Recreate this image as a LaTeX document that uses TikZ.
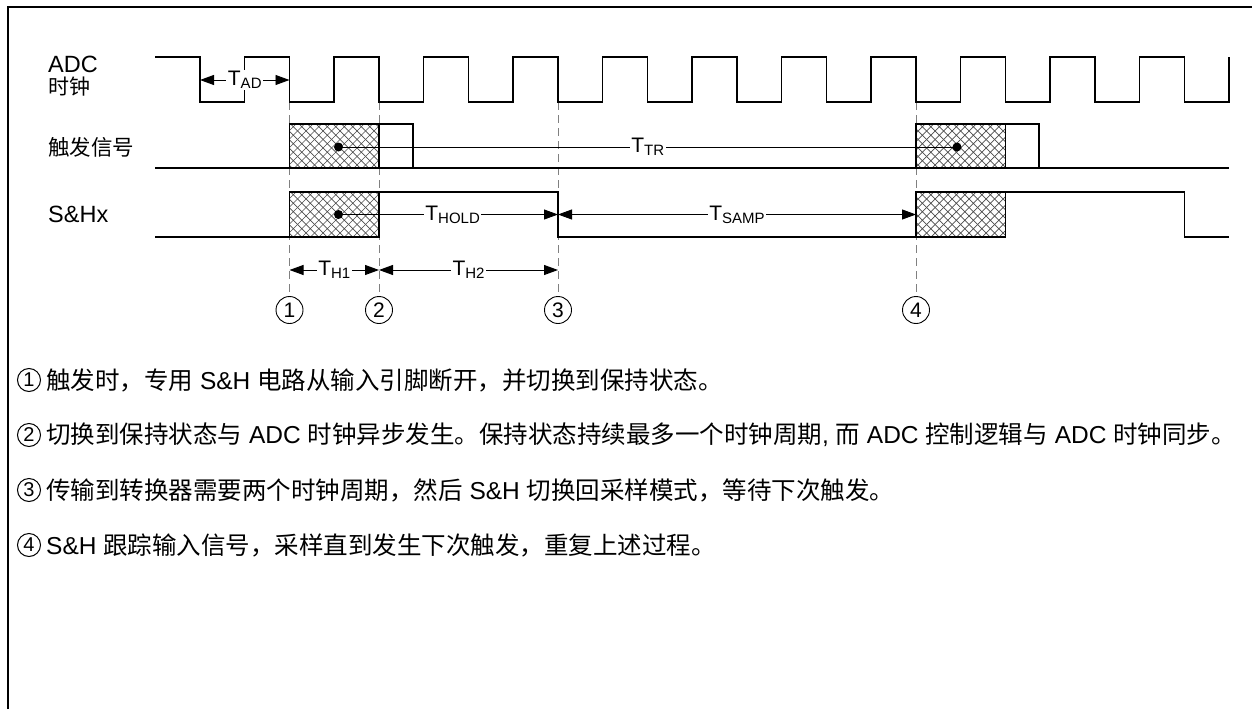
\documentclass[tikz,border=0pt]{standalone}
\usepackage{fontspec}
\setmainfont{Liberation Sans}
\newfontfamily\cjk{Noto Sans CJK SC}
\usepackage{tikz}
\usetikzlibrary{arrows.meta, patterns.meta}

\newcommand{\zh}[1]{{\cjk #1}}
\newcommand{\tsub}[1]{T\raisebox{-3pt}{\fontsize{15}{15}\selectfont #1}}

\tikzdeclarepattern{
  name=xhatch,
  type=uncolored,
  bottom left={(-0.5pt,-0.5pt)},
  top right={(9pt,9pt)},
  tile size={(8.5pt,8.5pt)},
  code={
    \tikzset{x=1pt,y=1pt}
    \path[draw, line width=0.7pt] (0,0) -- (8.5,8.5) (0,8.5) -- (8.5,0);
  }
}

\begin{document}
\begin{tikzpicture}[x=1pt, y=-1pt,
  clkwave/.style={line width=1.2pt},
  guideline/.style={gray, line width=0.9pt, dash pattern=on 8pt off 5pt},
  hatchbox/.style={draw, line width=1.2pt, pattern=xhatch, pattern color=black!70},
  dimboth/.style={line width=0.9pt, {Triangle[length=14pt,width=10pt]}-{Triangle[length=14pt,width=10pt]}},
  dimright/.style={line width=0.9pt, -{Triangle[length=14pt,width=10pt]}},
  dotnode/.style={circle, fill, inner sep=0pt, minimum size=9pt},
  tlabel/.style={fill=white, inner sep=1.5pt, font=\fontsize{21}{21}\selectfont},
  markcirc/.style={circle, draw, line width=0.9pt, minimum size=27pt, inner sep=0pt, font=\fontsize{21}{21}\selectfont},
  notecirc/.style={circle, draw, line width=1pt, minimum size=23pt, inner sep=0pt, font=\fontsize{20}{20}\selectfont},
  notetext/.style={anchor=west, inner sep=0pt, font=\fontsize{24.5}{28}\selectfont},
  rowlabel/.style={anchor=west, inner sep=0pt, font=\fontsize{23.5}{23.5}\selectfont}]
  \useasboundingbox (0,0) rectangle (1252,709);

  % outer frame (only top and left edges inside the picture)
  \draw[line width=2.5pt] (8,709) -- (8,7) -- (1252,7);

  % row labels
  \node[rowlabel] (lblclk) at (48,64) {ADC};
  \node[rowlabel, font=\cjk\fontsize{21}{21}\selectfont] (lblclk2) at (48,87) {时钟};
  \node[rowlabel, font=\cjk\fontsize{21.5}{21.5}\selectfont] (lbltrg) at (48,147) {触发信号};
  \node[rowlabel] (lblsh) at (48,214) {S\&Hx};

  % event markers
  \node[markcirc] (c1) at (289.5,310) {1};
  \node[markcirc] (c2) at (379,310) {2};
  \node[markcirc] (c3) at (558,310) {3};
  \node[markcirc] (c4) at (916,310) {4};
  \coordinate (clklow) at (0,102);
  \foreach \i in {1,...,4}
    \draw[guideline] (c\i |- clklow) -- (c\i.north);

  % ADC clock
  \draw[clkwave] (155,57) -- (200,57) -- (200,102)
    foreach \k in {0,...,10} {
      -- ({244.5+89.5*\k},102) -- ({244.5+89.5*\k},57)
      -- ({289.5+89.5*\k},57) -- ({289.5+89.5*\k},102)
    } -- (1229,102) -- (1229,57);

  % trigger signal
  \draw[clkwave] (155,168) -- (1229,168);
  \draw[clkwave] (289.5,124) rectangle (413,168);
  \draw[clkwave] (916,124) rectangle (1039,168);
  \draw[hatchbox] (289.5,124) rectangle (379,168);
  \draw[hatchbox] (916,124) rectangle (1005.5,168);

  % S&H signal
  \draw[clkwave] (155,237) -- (289.5,237) -- (289.5,192) -- (558,192) -- (558,237)
    -- (916,237) -- (916,192) -- (1184.5,192) -- (1184.5,237) -- (1229,237);
  \draw[hatchbox] (289.5,192) rectangle (379,237);
  \draw[hatchbox] (916,192) rectangle (1005.5,237);

  % T_AD
  \coordinate (ad0) at (200,80);
  \draw[dimboth] (ad0) -- (c1 |- ad0) node[midway, tlabel] {\tsub{AD}};

  % T_TR
  \node[dotnode] (tr1) at (338.5,147) {};
  \node[dotnode] (tr2) at (957,147) {};
  \draw[line width=0.9pt] (tr1.center) -- (tr2.center) node[midway, tlabel] {\tsub{TR}};

  % T_HOLD and T_SAMP
  \node[dotnode] (sh1) at (338.5,214.5) {};
  \draw[dimright] (sh1.center) -- (c3 |- sh1) node[pos=0.52, tlabel] {\tsub{HOLD}};
  \draw[dimboth] (c3 |- sh1) -- (c4 |- sh1) node[midway, tlabel] {\tsub{SAMP}};

  % T_H1 and T_H2
  \coordinate (hrow) at (0,270);
  \draw[dimboth] (c1 |- hrow) -- (c2 |- hrow) node[midway, tlabel] {\tsub{H1}};
  \draw[dimboth] (c2 |- hrow) -- (c3 |- hrow) node[midway, tlabel] {\tsub{H2}};

  % notes
  \node[notecirc] (n1) at (29,380) {1};
  \node[notecirc] (n2) at (29,435) {2};
  \node[notecirc] (n3) at (29,490) {3};
  \node[notecirc] (n4) at (29,545) {4};
  \node[notetext] (t1) at (46,380)
    {\zh{触发时，专用} S\&H \zh{电路从输入引脚断开，并切换到保持状态。}};
  \node[notetext] (t2) at (46,435)
    {\zh{切换到保持状态与} ADC \zh{时钟异步发生。保持状态持续最多一个时钟周期}, \zh{而} ADC \zh{控制逻辑与} ADC \zh{时钟同步。}};
  \node[notetext] (t3) at (46,490)
    {\zh{传输到转换器需要两个时钟周期，然后} S\&H \zh{切换回采样模式，等待下次触发。}};
  \node[notetext] (t4) at (46,545)
    {S\&H \zh{跟踪输入信号，采样直到发生下次触发，重复上述过程。}};
\end{tikzpicture}
\end{document}
